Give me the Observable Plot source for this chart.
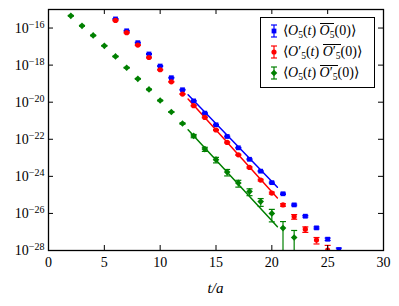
<!DOCTYPE html>
<html><head><meta charset="utf-8">
<script src="https://cdn.jsdelivr.net/npm/d3@7"></script>
<script src="https://cdn.jsdelivr.net/npm/@observablehq/plot@0.6"></script>
<style>
body{margin:0;background:#fff}
#wrap{position:relative;width:399px;height:306px}
#legend{position:absolute;left:260px;top:17px;width:115px;height:71px;border:1.3px solid #000;background:#fff;box-sizing:border-box}
.row{position:absolute;left:0;height:20px;line-height:20px;font-size:14px;white-space:nowrap;color:#000}
.row svg{position:absolute;left:6px;top:2px}
.row .lab{position:absolute;left:22px;top:0}
.ov{display:inline-block;border-top:1px solid #000;line-height:12px;padding-top:1px}
.sb{font-size:9.5px;vertical-align:-3px}
</style></head><body><div id="wrap" style="font-family:serif">
<div id="legend" style="font-family:serif">
<div class="row" style="top:3px;font-family:serif"><span class="lab" style="font-family:serif">⟨<i style="font-family:serif">O</i><span class="sb" style="font-family:serif">5</span>(<i style="font-family:serif">t</i>) <span class="ov" style="font-family:serif"><i style="font-family:serif">O</i><span class="sb" style="font-family:serif">5</span></span>(0)⟩</span></div>
<div class="row" style="top:24px;font-family:serif"><span class="lab" style="font-family:serif">⟨<i style="font-family:serif">O</i>′<span class="sb" style="font-family:serif">5</span>(<i style="font-family:serif">t</i>) <span class="ov" style="font-family:serif"><i style="font-family:serif">O</i>′<span class="sb" style="font-family:serif">5</span></span>(0)⟩</span></div>
<div class="row" style="top:45px;font-family:serif"><span class="lab" style="font-family:serif">⟨<i style="font-family:serif">O</i><span class="sb" style="font-family:serif">5</span>(<i style="font-family:serif">t</i>) <span class="ov" style="font-family:serif"><i style="font-family:serif">O</i>′<span class="sb" style="font-family:serif">5</span></span>(0)⟩</span></div>
</div>
</div>
<script>
// ---- data (log10 of the correlator values) ----
const tBlue  = [6,7,8,9,10,11,12,13,14,15,16,17,18,19,20,21,22,23,24,25,26];
const logBlue= [-15.51,-16.15,-16.79,-17.40,-18.05,-18.68,-19.33,-19.93,-20.59,-21.22,-21.85,-22.46,-23.08,-23.72,-24.34,-24.94,-25.54,-26.15,-26.78,-27.39,-27.95];
const errBlue= [0.05,0.05,0.05,0.05,0.05,0.05,0.05,0.05,0.05,0.05,0.05,0.05,0.06,0.06,0.07,0.08,0.1,0.1,0.12,0.15,0.2];

const tRed   = [6,7,8,9,10,11,12,13,14,15,16,17,18,19,20,21,22,23,24,25];
const logRed = [-15.59,-16.25,-16.92,-17.59,-18.25,-18.90,-19.56,-20.19,-20.82,-21.50,-22.17,-22.84,-23.52,-24.20,-24.90,-25.54,-26.17,-26.85,-27.44,-27.98];
const errRed = [0.05,0.05,0.05,0.05,0.05,0.05,0.05,0.05,0.05,0.06,0.06,0.07,0.08,0.1,0.12,0.15,0.28,0.33,0.38,0.8];

const tGreen  = [2,3,4,5,6,7,8,9,10,11,12,13,14,15,16,17,18,19,20,21,22];
const logGreen= [-15.34,-15.88,-16.40,-16.96,-17.53,-18.14,-18.74,-19.31,-19.91,-20.53,-21.15,-21.82,-22.53,-23.10,-23.77,-24.36,-24.82,-25.36,-26.00,-26.79,-27.30];
const errGreen= [0.05,0.05,0.05,0.05,0.05,0.05,0.05,0.05,0.05,0.05,0.08,0.2,0.25,0.33,0.38,0.4,0.4,0.45,0.65,1.24,1.4];

// fitted lines (t range and log10 values at the ends)
const fitT     = [12.5, 20.5];
const fitBlue  = [-19.60, -24.59];
const fitRed   = [-19.83, -25.17];
const fitGreen = [-21.49, -26.72];

const xTicks   = [0,5,10,15,20,25,30];
const yTickExp = [-28,-26,-24,-22,-20,-18,-16];

const BLUE="#0000ff", RED="#ff0000", GREEN="#008000";
const W=399,H=306,mL=48,mR=16,mT=9,mB=56;
const iw=W-mL-mR, ih=H-mT-mB;
const cap=0.27;

function rows(ts, logs, errs){
  return ts.map((t,i)=>{const y=10**logs[i]; const e=errs[i]*y; return {t, y, lo:Math.max(y-e,1e-31), hi:y+e};});
}
function fit(vals){ return fitT.map((t,i)=>({t, y:10**vals[i]})); }
function series(data,color,symbol,r){
  return [
    Plot.ruleX(data,{x:"t",y1:"lo",y2:"hi",stroke:color,strokeWidth:1.2,clip:true}),
    Plot.link(data,{x1:d=>d.t-cap,x2:d=>d.t+cap,y1:"hi",y2:"hi",stroke:color,strokeWidth:1.2,clip:true}),
    Plot.link(data,{x1:d=>d.t-cap,x2:d=>d.t+cap,y1:"lo",y2:"lo",stroke:color,strokeWidth:1.2,clip:true}),
    Plot.dot(data,{x:"t",y:"y",symbol,r,fill:color,clip:true})
  ];
}
const blue=rows(tBlue,logBlue,errBlue), red=rows(tRed,logRed,errRed), green=rows(tGreen,logGreen,errGreen);
const yTicks=yTickExp.map(e=>10**e);

const plot = Plot.plot({
  width:W, height:H, marginLeft:mL, marginRight:mR, marginTop:mT, marginBottom:mB,
  style:{fontFamily:"serif", fontSize:"14px", background:"#fff", color:"#000"},
  x:{domain:[0,30]},
  y:{type:"log", domain:[1e-28,1e-15]},
  marks:[
    Plot.line(fit(fitBlue),{x:"t",y:"y",stroke:BLUE,strokeWidth:1.5}),
    Plot.line(fit(fitRed),{x:"t",y:"y",stroke:RED,strokeWidth:1.5}),
    Plot.line(fit(fitGreen),{x:"t",y:"y",stroke:GREEN,strokeWidth:1.5}),
    ...series(blue,BLUE,"square",2.7),
    ...series(red,RED,"circle",2.6),
    ...series(green,GREEN,"diamond2",3.0),
    Plot.tickX(xTicks,{x:d=>d,insetBottom:ih-5,stroke:"#000"}),
    Plot.tickX(xTicks,{x:d=>d,insetTop:ih-5,stroke:"#000"}),
    Plot.tickY(yTicks,{y:d=>d,insetRight:iw-5,stroke:"#000"}),
    Plot.tickY(yTicks,{y:d=>d,insetLeft:iw-5,stroke:"#000"}),
    Plot.frame({stroke:"#000",strokeWidth:1.3}),
    Plot.axisX({ticks:xTicks,tickSize:0,tickPadding:7,label:null,tickFormat:d=>String(d)}),
    Plot.axisY({ticks:yTicks,tickSize:0,tickPadding:4,label:null,tickFormat:d=>String(Math.round(Math.log10(d)))})
  ]
});
const wrap=document.getElementById("wrap");
wrap.insertBefore(plot, wrap.firstChild);
const ns="http://www.w3.org/2000/svg";
plot.querySelectorAll('g[aria-label="y-axis tick label"] text').forEach(t=>{
  const e=Math.abs(parseInt(t.textContent.replace("−","-")));
  t.textContent="";
  const a=document.createElementNS(ns,"tspan"); a.textContent="10"; t.appendChild(a);
  const b=document.createElementNS(ns,"tspan"); b.setAttribute("dy","-0.5em"); b.setAttribute("font-size","10"); b.textContent="−"+e; t.appendChild(b);
});
const xl=document.createElementNS(ns,"text");
xl.setAttribute("x",mL+iw/2); xl.setAttribute("y",293); xl.setAttribute("text-anchor","middle");
xl.setAttribute("font-style","italic"); xl.setAttribute("font-size","15"); xl.textContent="t/a";
plot.appendChild(xl);
plot.querySelectorAll("text, tspan").forEach(el=>{ el.setAttribute("font-family","serif"); el.style.fontFamily="serif"; });

// legend error-bar symbols
const legItems=[[BLUE,"square",2.7],[RED,"circle",2.6],[GREEN,"diamond2",3.0]];
const symMap={square:d3.symbolSquare,circle:d3.symbolCircle,diamond2:d3.symbolDiamond2};
document.querySelectorAll("#legend .row").forEach((row,i)=>{
  const [c,s,r]=legItems[i];
  const sv=d3.create("svg").attr("width",14).attr("height",16);
  sv.append("line").attr("x1",7).attr("x2",7).attr("y1",2).attr("y2",14).attr("stroke",c).attr("stroke-width",1.2);
  sv.append("line").attr("x1",4).attr("x2",10).attr("y1",2).attr("y2",2).attr("stroke",c).attr("stroke-width",1.2);
  sv.append("line").attr("x1",4).attr("x2",10).attr("y1",14).attr("y2",14).attr("stroke",c).attr("stroke-width",1.2);
  sv.append("path").attr("transform","translate(7,8)").attr("d",d3.symbol(symMap[s],Math.PI*r*r)()).attr("fill",c);
  row.insertBefore(sv.node(), row.firstChild);
});
</script></body></html>
